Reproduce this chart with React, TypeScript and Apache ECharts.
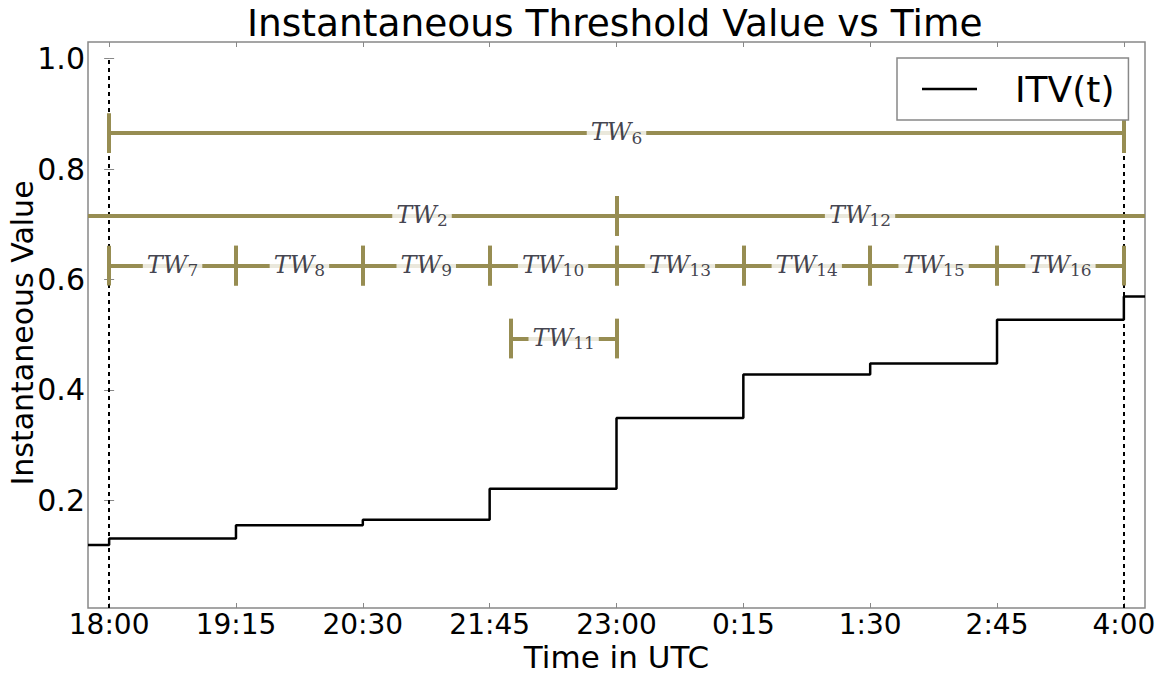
import { useEffect, useRef } from "react";
import * as echarts from "echarts";

// ---- data ----
const tickMinutes = [0, 75, 150, 225, 300, 375, 450, 525, 600];
const tickLabels = ["18:00", "19:15", "20:30", "21:45", "23:00", "0:15", "1:30", "2:45", "4:00"];
const yTicks = [0.2, 0.4, 0.6, 0.8, 1.0];
const xMin = -12.5;
const xMax = 612.5;
const yMin = 0.005;
const yMax = 1.03;

// ITV(t) step series (minutes after 18:00)
const stepMinutes = [-12.5, 0, 75, 150, 225, 300, 375, 450, 525, 600, 612.5];
const itvValues = [0.119, 0.131, 0.155, 0.165, 0.221, 0.349, 0.428, 0.448, 0.527, 0.569, 0.569];

// dashed boundaries
const boundaryMinutes = [0, 600];
const boundaryTop = 1.0;

// time windows
const twNames = ["6", "2", "12", "7", "8", "9", "10", "13", "14", "15", "16", "11"];
const twStart = [0, -12.5, 300, 0, 75, 150, 225, 300, 375, 450, 525, 237.5];
const twEnd = [600, 300, 612.5, 75, 150, 225, 300, 375, 450, 525, 600, 300];
const twLevel = [0.865, 0.715, 0.715, 0.625, 0.625, 0.625, 0.625, 0.625, 0.625, 0.625, 0.625, 0.493];
const twLabelAt = [300, 185, 444, 37.5, 112.5, 187.5, 262.5, 337.5, 412.5, 487.5, 562.5, 268.75];
const twCapStart = [true, false, true, true, true, true, true, true, true, true, true, true];
const twCapEnd = [true, true, false, true, true, true, true, true, true, true, true, true];
const capHalf = 0.036;

const OLIVE = "#978d52";
const FONT = "DejaVu Sans";

export default function App() {
  const ref = useRef<HTMLDivElement>(null);
  useEffect(() => {
    if (!ref.current) return;
    const chart = echarts.init(ref.current, undefined, { renderer: "svg" });

    const barLines: any[] = [];
    twNames.forEach((_, i) => {
      const y = twLevel[i];
      barLines.push({ coords: [[twStart[i], y], [twEnd[i], y]] });
      if (twCapStart[i]) barLines.push({ coords: [[twStart[i], y - capHalf], [twStart[i], y + capHalf]] });
      if (twCapEnd[i]) barLines.push({ coords: [[twEnd[i], y - capHalf], [twEnd[i], y + capHalf]] });
    });

    const tickStyle = { show: true, inside: true, length: 5, lineStyle: { color: "#888", width: 1 } };

    chart.setOption({
      animation: false,
      backgroundColor: "#fff",
      title: {
        text: "Instantaneous Threshold Value vs Time",
        left: 247,
        top: 4,
        padding: 0,
        textStyle: { fontSize: 37.5, fontWeight: "normal", fontFamily: FONT, color: "#000" },
      },
      legend: {
        data: [{ name: "ITV(t)", icon: "rect" }],
        selectedMode: false,
        left: 897,
        top: 58,
        backgroundColor: "#fff",
        borderColor: "#888",
        borderWidth: 1.5,
        borderRadius: 0,
        padding: [13, 14, 13, 25],
        itemWidth: 55,
        itemHeight: 2.5,
        itemStyle: { color: "#000" },
        textStyle: { fontSize: 36, fontFamily: FONT, color: "#000", padding: [0, 0, 0, 33] },
        z: 10,
      },
      grid: {
        left: 88,
        right: 20,
        top: 42,
        bottom: 66,
        outerBoundsMode: "none",
        containLabel: false,
        show: true,
        borderColor: "#888",
        borderWidth: 1.5,
        backgroundColor: "#fff",
      },
      xAxis: [
        {
          type: "value",
          min: xMin,
          max: xMax,
          position: "bottom",
          name: "Time in UTC",
          nameLocation: "middle",
          nameGap: 33,
          nameMoveOverlap: false,
          nameTextStyle: { fontSize: 31, lineHeight: 31, fontFamily: FONT, color: "#000" },
          axisLine: { show: false },
          splitLine: { show: false },
          axisTick: { ...tickStyle, customValues: tickMinutes },
          axisLabel: {
            customValues: tickMinutes,
            formatter: (v: number) => tickLabels[tickMinutes.indexOf(v)] ?? "",
            fontSize: 28,
            lineHeight: 28,
            fontFamily: FONT,
            color: "#000",
            margin: 2,
          },
        },
        {
          type: "value",
          min: xMin,
          max: xMax,
          position: "top",
          axisLine: { show: false },
          splitLine: { show: false },
          axisTick: { ...tickStyle, customValues: tickMinutes },
          axisLabel: { show: false, customValues: tickMinutes },
        },
      ],
      yAxis: [
        {
          type: "value",
          min: yMin,
          max: yMax,
          position: "left",
          name: "Instantaneous Value",
          nameLocation: "middle",
          nameGap: 51,
          nameRotate: 90,
          nameMoveOverlap: false,
          nameTextStyle: { fontSize: 30, fontFamily: FONT, color: "#000", padding: [0, 16, 0, 0] },
          axisLine: { show: false },
          splitLine: { show: false },
          axisTick: { ...tickStyle, customValues: yTicks },
          axisLabel: {
            customValues: yTicks,
            formatter: (v: number) => v.toFixed(1),
            fontSize: 30,
            fontFamily: FONT,
            color: "#000",
            margin: 3,
          },
        },
        {
          type: "value",
          min: yMin,
          max: yMax,
          position: "right",
          axisLine: { show: false },
          splitLine: { show: false },
          axisTick: { ...tickStyle, customValues: yTicks },
          axisLabel: { show: false, customValues: yTicks },
        },
      ],
      series: [
        {
          type: "lines",
          coordinateSystem: "cartesian2d",
          data: boundaryMinutes.map((m) => ({ coords: [[m, yMin], [m, boundaryTop]] })),
          lineStyle: { color: "#000", width: 2, type: [4, 4], opacity: 1 },
          silent: true,
          z: 2,
        },
        {
          name: "ITV(t)",
          type: "line",
          step: "end",
          symbol: "none",
          data: stepMinutes.map((m, i) => [m, itvValues[i]]),
          lineStyle: { color: "#000", width: 2.5 },
          itemStyle: { color: "#000" },
          z: 3,
        },
        {
          type: "lines",
          coordinateSystem: "cartesian2d",
          data: barLines,
          lineStyle: { color: OLIVE, width: 4, opacity: 1 },
          silent: true,
          z: 4,
        },
        {
          type: "scatter",
          symbolSize: 1,
          itemStyle: { color: "rgba(0,0,0,0)" },
          data: twNames.map((n, i) => [twLabelAt[i], twLevel[i], n]),
          z: 5,
          label: {
            show: true,
            position: "inside",
            formatter: (p: any) => `{t|TW}{s|${p.data[2]}}`,
            backgroundColor: "#fff",
            padding: [0, 4],
            rich: {
              t: {
                fontFamily: "DejaVu Serif",
                fontStyle: "italic",
                fontSize: 24,
                color: "#111122",
                lineHeight: 26,
                verticalAlign: "top",
              },
              s: {
                fontFamily: "DejaVu Serif",
                fontSize: 17,
                color: "#111122",
                lineHeight: 12,
                verticalAlign: "bottom",
              },
            },
          },
        },
      ],
    });
    return () => chart.dispose();
  }, []);
  return <div ref={ref} style={{ position: "fixed", left: 0, top: 0, width: 1165, height: 674 }} />;
}
